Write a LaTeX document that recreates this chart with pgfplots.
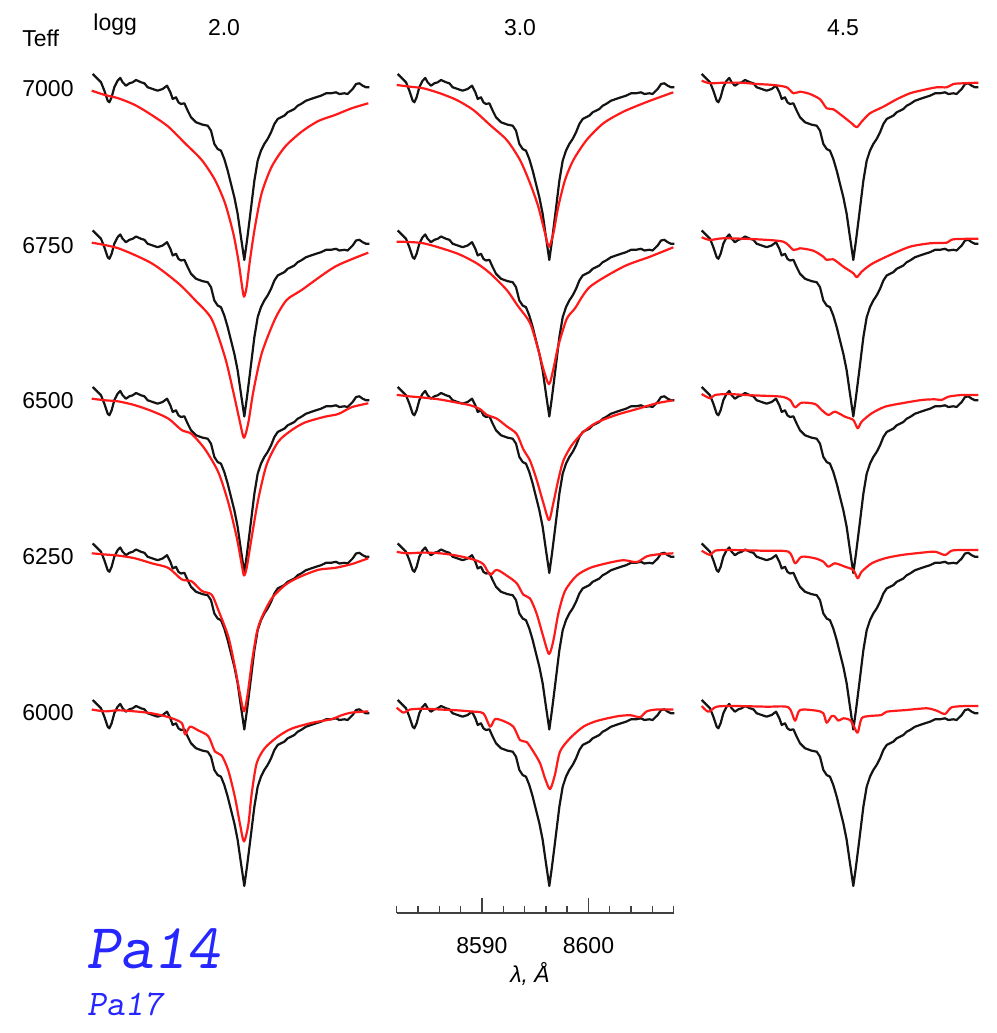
\documentclass[border=0pt]{standalone}
\usepackage{pgfplots}
\pgfplotsset{compat=1.18}
\usepackage{pgfplotstable}
\usepackage{fontspec}
\setmainfont{Liberation Sans}
\definecolor{pablue}{rgb}{0.15,0.15,1}
\definecolor{mred}{rgb}{1,0.1,0.1}

% observed spectrum (same star in every panel); f = offset from row baseline (px units)
\pgfplotstableread{
l f
8582.12 12.0
8582.59 7.0
8582.90 3.7
8583.21 -4.7
8583.52 -14.7
8583.68 -16.3
8583.89 -11.3
8584.14 -1.3
8584.45 5.3
8584.70 8.0
8584.92 3.7
8585.23 0.3
8585.55 2.7
8585.86 3.7
8586.17 6.0
8586.64 3.7
8586.95 2.7
8587.26 -1.3
8587.73 -3.0
8588.19 -4.7
8588.66 -3.0
8589.07 0.3
8589.38 -6.3
8589.60 -13.0
8589.91 -11.3
8590.13 -16.3
8590.37 -18.0
8590.69 -17.3
8591.00 -24.7
8591.31 -31.3
8591.78 -36.3
8592.40 -38.7
8592.87 -39.7
8593.18 -44.7
8593.49 -58.0
8593.80 -63.0
8594.11 -64.7
8594.42 -73.0
8594.74 -84.7
8595.05 -98.0
8595.36 -111.3
8595.67 -128.0
8595.98 -151.3
8596.29 -174.0
8596.54 -154.7
8596.85 -128.0
8597.23 -94.7
8597.54 -74.7
8597.85 -64.7
8598.16 -58.0
8598.47 -53.0
8598.79 -46.3
8599.10 -38.0
8599.41 -33.0
8599.72 -31.3
8600.03 -29.7
8600.34 -26.3
8600.65 -24.7
8600.97 -23.0
8601.28 -19.7
8601.59 -18.0
8602.06 -14.7
8602.52 -13.0
8602.99 -11.3
8603.46 -9.7
8603.93 -7.3
8604.39 -7.3
8604.86 -6.3
8605.17 -8.0
8605.64 -7.3
8605.95 -8.0
8606.42 -3.0
8606.73 2.0
8607.04 2.7
8607.35 0.3
8607.66 -1.3
8607.98 -1.3
}\obs

% ---- models, logg 2.0 ----
\pgfplotstableread{
l f
8582.03 -4.7
8583.27 -9.0
8584.52 -12.3
8586.07 -19.0
8587.63 -29.0
8589.19 -40.7
8590.75 -57.3
8592.31 -74.0
8593.55 -94.0
8594.49 -117.3
8595.26 -147.3
8595.73 -174.0
8596.04 -197.3
8596.26 -210.7
8596.51 -200.7
8596.82 -174.0
8597.29 -140.7
8597.91 -107.3
8598.85 -80.7
8600.10 -60.7
8601.65 -45.7
8603.21 -35.0
8604.77 -29.0
8606.32 -22.3
8607.88 -17.3
}\redA
\pgfplotstableread{
l f
8582.03 -0.2
8584.52 -5.8
8587.63 -20.8
8590.12 -40.8
8591.68 -57.5
8593.24 -76.6
8594.49 -114.9
8595.26 -149.3
8595.89 -180.0
8596.26 -195.3
8596.67 -180.0
8597.13 -149.3
8597.91 -111.1
8599.16 -76.6
8600.25 -57.5
8601.65 -47.5
8604.77 -24.2
8607.88 -10.2
}\redB
\pgfplotstableread{
l f
8582.03 0.3
8583.27 -1.3
8584.52 -2.4
8586.07 -6.2
8587.63 -12.0
8589.19 -19.6
8590.44 -31.1
8591.37 -35.0
8592.62 -50.3
8593.86 -73.2
8594.80 -103.8
8595.58 -138.3
8596.04 -165.1
8596.26 -176.5
8596.51 -168.9
8596.98 -138.3
8597.60 -100.0
8598.38 -65.6
8599.47 -42.6
8600.72 -31.1
8601.96 -23.5
8603.83 -17.7
8605.08 -15.0
8606.32 -8.2
8607.88 -4.3
}\redC
\pgfplotstableread{
l f
8582.03 2.2
8583.27 1.0
8584.52 -0.1
8586.07 -2.8
8587.63 -7.8
8589.19 -12.4
8590.44 -23.9
8591.37 -25.8
8592.31 -35.4
8593.24 -39.2
8593.86 -54.5
8594.80 -81.3
8595.42 -111.9
8595.89 -138.7
8596.26 -155.9
8596.60 -138.7
8596.98 -108.1
8597.45 -77.5
8597.91 -62.2
8598.85 -43.0
8600.10 -29.6
8601.34 -22.0
8603.21 -14.3
8604.77 -12.4
8606.32 -8.6
8607.88 -2.8
}\redD
\pgfplotstableread{
l f
8582.03 2.5
8583.27 0.6
8584.52 1.7
8586.07 0.6
8587.63 -1.3
8589.19 -5.1
8590.44 -10.9
8590.75 -22.4
8591.22 -14.7
8592.00 -18.5
8592.93 -24.3
8593.55 -39.6
8594.17 -43.4
8594.80 -58.7
8595.42 -85.5
8595.89 -112.3
8596.26 -129.5
8596.67 -112.3
8596.98 -81.7
8597.45 -51.1
8598.23 -35.8
8599.47 -24.3
8600.72 -16.6
8602.59 -10.9
8604.46 -7.1
8605.39 -3.2
8606.32 -0.6
8607.88 0.6
}\redE
% ---- models, logg 3.0 ----
\pgfplotstableread{
l f
8582.03 1.0
8583.27 -0.7
8584.52 -2.3
8586.07 -7.3
8587.63 -14.0
8589.19 -24.0
8590.75 -39.0
8592.31 -54.0
8593.55 -74.0
8594.49 -97.3
8595.26 -120.7
8595.89 -147.3
8596.26 -160.7
8596.67 -147.3
8597.13 -120.7
8597.76 -94.0
8598.54 -74.0
8599.78 -54.0
8601.34 -37.3
8603.21 -25.7
8605.08 -17.3
8606.32 -12.3
8607.88 -6.3
}\redF
\pgfplotstableread{
l f
8582.03 0.8
8584.52 -0.8
8587.63 -10.8
8589.50 -20.8
8590.75 -30.8
8592.31 -47.5
8593.40 -64.2
8594.49 -80.5
8595.26 -107.3
8595.73 -126.4
8596.26 -141.7
8596.67 -126.4
8597.13 -103.4
8597.91 -76.6
8598.69 -65.8
8600.10 -44.2
8603.21 -24.2
8605.70 -14.2
8607.88 -4.8
}\redG
\pgfplotstableread{
l f
8582.03 4.1
8583.27 2.6
8584.52 1.4
8586.07 -0.5
8587.63 -3.6
8588.88 -6.2
8589.81 -10.1
8590.44 -15.8
8591.37 -19.6
8592.31 -27.3
8593.24 -35.0
8593.86 -50.3
8594.49 -61.7
8595.11 -80.9
8595.73 -103.8
8596.26 -121.1
8596.67 -103.8
8597.13 -80.9
8597.60 -61.7
8598.38 -46.4
8599.47 -33.0
8600.72 -23.5
8602.59 -15.8
8604.46 -10.1
8606.32 -4.3
8607.88 -1.3
}\redH
\pgfplotstableread{
l f
8582.03 3.7
8582.96 2.2
8584.52 2.9
8586.07 2.2
8587.63 -0.1
8589.19 -4.0
8590.12 -8.6
8590.75 -19.3
8591.37 -14.3
8592.31 -20.1
8593.24 -27.7
8593.86 -39.2
8594.49 -43.0
8595.11 -58.3
8595.73 -81.3
8596.26 -98.5
8596.67 -85.1
8597.13 -58.3
8597.76 -35.4
8598.85 -20.1
8600.10 -12.4
8601.65 -7.8
8603.21 -4.7
8604.46 -6.6
8605.39 -0.9
8606.32 1.0
8607.88 2.2
}\redI
\pgfplotstableread{
l f
8582.03 4.4
8582.65 -0.6
8583.27 2.5
8584.52 3.3
8586.07 2.5
8587.63 1.7
8588.88 0.6
8590.12 -1.3
8590.75 -14.7
8591.22 -7.1
8592.00 -9.0
8592.93 -14.7
8593.55 -28.1
8594.17 -30.0
8594.80 -39.6
8595.42 -51.1
8595.89 -66.4
8596.36 -77.1
8596.82 -62.6
8597.29 -39.6
8598.23 -26.2
8599.47 -14.7
8600.72 -9.0
8602.59 -4.4
8603.83 -3.2
8604.77 -5.1
8605.39 0.6
8606.32 2.5
8607.88 2.5
}\redJ
% ---- models, logg 4.5 ----
\pgfplotstableread{
l f
8582.12 5.3
8582.90 2.7
8584.14 3.3
8585.70 3.3
8587.26 2.0
8588.82 1.0
8590.06 -1.3
8590.69 -7.3
8591.31 -5.7
8592.24 -8.0
8593.18 -13.3
8593.80 -22.3
8594.42 -23.3
8595.36 -30.7
8596.14 -37.3
8596.61 -41.3
8597.07 -35.7
8597.85 -27.3
8599.10 -20.7
8600.34 -13.3
8601.59 -7.3
8602.83 -4.0
8604.08 -1.3
8605.02 -1.3
8605.64 2.0
8606.57 2.7
8607.97 3.3
}\redK
\pgfplotstableread{
l f
8582.12 5.2
8582.90 2.5
8584.14 4.2
8587.26 3.2
8589.75 0.8
8590.69 -7.5
8591.31 -5.8
8592.55 -8.2
8593.49 -14.2
8593.80 -17.5
8594.42 -16.8
8595.36 -24.2
8596.30 -30.8
8596.61 -34.8
8597.07 -29.2
8598.01 -21.5
8599.72 -12.5
8601.59 -4.2
8603.46 -0.8
8605.02 -0.2
8605.64 3.2
8607.97 3.8
}\redL
\pgfplotstableread{
l f
8582.12 5.0
8582.90 0.7
8583.36 4.0
8584.61 5.0
8586.17 4.0
8587.73 3.3
8589.59 2.3
8590.37 -1.0
8590.84 -8.3
8591.46 -3.7
8592.71 -5.0
8593.33 -11.0
8593.96 -16.0
8594.58 -12.7
8595.51 -17.7
8596.29 -21.0
8596.70 -29.3
8597.07 -22.7
8598.01 -14.3
8599.25 -7.7
8600.81 -4.3
8602.68 -1.0
8603.92 -0.3
8604.55 -1.0
8605.17 2.3
8606.42 4.0
8607.97 4.0
}\redM
\pgfplotstableread{
l f
8582.12 4.8
8582.90 0.5
8583.36 4.8
8584.61 5.5
8587.73 4.8
8590.22 3.8
8590.84 -7.8
8591.46 -1.2
8592.71 -2.8
8593.49 -6.2
8593.96 -11.2
8594.58 -7.8
8595.51 -11.2
8596.29 -14.5
8596.70 -22.8
8597.07 -16.2
8598.01 -7.8
8599.25 -2.8
8600.81 0.5
8602.68 2.8
8603.92 3.8
8604.86 0.5
8605.48 4.8
8606.42 5.5
8607.97 5.5
}\redN
\pgfplotstableread{
l f
8582.12 6.0
8582.74 0.3
8583.52 5.3
8585.08 6.0
8588.19 5.3
8590.22 4.7
8590.84 -8.7
8591.31 2.0
8592.87 1.3
8593.49 -1.3
8593.80 -10.7
8594.27 -4.0
8594.58 -4.7
8594.89 -8.7
8595.36 -6.3
8595.98 -8.0
8596.36 -14.7
8596.70 -20.7
8597.07 -6.3
8597.85 -4.0
8598.94 -3.0
8599.41 0.3
8601.28 2.0
8603.15 3.7
8604.08 1.3
8604.86 -2.0
8605.48 4.7
8606.88 6.0
8607.98 6.0
}\redO

% #1 column shift (A), #2 row baseline (px from top), #3 model table
\newcommand{\panel}[3]{%
  \addplot[black!92, line width=1.1pt, line join=round] table[x expr=\thisrow{l}+#1, y expr=\thisrow{f}-#2]{\obs};
  \addplot[mred, line width=1.1pt, line join=round, smooth, tension=0.45] table[x expr=\thisrow{l}+#1, y expr=\thisrow{f}-#2]{#3};
}

\begin{document}
\fontsize{11.5}{13}\selectfont
\begin{tikzpicture}
\useasboundingbox (0,0) rectangle (498pt,516.5pt);
\begin{axis}[
  at={(0,0)}, anchor=south west,
  scale only axis, width=498pt, height=516.5pt,
  xmin=8544.953, xmax=8638.037, ymin=-1033, ymax=0,
  hide axis, clip=false,
]
\panel{-28.505}{86}{\redA}
\panel{-28.505}{242.5}{\redB}
\panel{-28.505}{399}{\redC}
\panel{-28.505}{555.5}{\redD}
\panel{-28.505}{712}{\redE}
\panel{0}{86}{\redF}
\panel{0}{242.5}{\redG}
\panel{0}{399}{\redH}
\panel{0}{555.5}{\redI}
\panel{0}{712}{\redJ}
\panel{28.411}{86}{\redK}
\panel{28.411}{242.5}{\redL}
\panel{28.411}{399}{\redM}
\panel{28.411}{555.5}{\redN}
\panel{28.411}{712}{\redO}
% header and row labels (positions in picture fractions)
\node[anchor=base west, inner sep=0] at (rel axis cs:0.0221,0.9545) {Teff};
\node[anchor=base west, inner sep=0] at (rel axis cs:0.0934,0.9700) {logg};
\node[anchor=base, inner sep=0] at (rel axis cs:0.2249,0.9652) {2.0};
\node[anchor=base, inner sep=0] at (rel axis cs:0.5221,0.9652) {3.0};
\node[anchor=base, inner sep=0] at (rel axis cs:0.8464,0.9652) {4.5};
\node[anchor=base west, inner sep=0] at (rel axis cs:0.0221,0.9066) {7000};
\node[anchor=base west, inner sep=0] at (rel axis cs:0.0221,0.7546) {6750};
\node[anchor=base west, inner sep=0] at (rel axis cs:0.0221,0.6046) {6500};
\node[anchor=base west, inner sep=0] at (rel axis cs:0.0221,0.4535) {6250};
\node[anchor=base west, inner sep=0] at (rel axis cs:0.0221,0.3025) {6000};
\node[anchor=base, inner sep=0] at (rel axis cs:0.5321,0.0490) {\textit{λ, Å}};
\node[anchor=base west, inner sep=0, text=pablue] at (rel axis cs:0.0860,0.0629) {\fontsize{32}{34}\selectfont\ttfamily\slshape Pa14};
\node[anchor=base west, inner sep=0, text=pablue] at (rel axis cs:0.0870,0.0174) {\fontsize{18}{20}\selectfont\ttfamily\slshape Pa17};
\end{axis}
% wavelength scale bar under the middle column
\begin{axis}[
  at={(198.35pt,60pt)}, anchor=south west,
  scale only axis, width=138.5pt, height=10pt,
  xmin=8582, xmax=8608, ymin=0, ymax=1,
  axis x line=bottom, axis y line=none,
  axis line style={-, line width=0.7pt, black!75},
  xtick={8590,8600}, xticklabels={8590,8600},
  minor xtick={8582,8584,...,8608},
  tick align=inside,
  major tick length=7.5pt, minor tick length=3.5pt,
  every tick/.style={line width=0.7pt, black!75},
  xticklabel style={yshift=-8pt, font=\fontsize{11.5}{13}\selectfont},
]
\addplot[draw=none] coordinates {(8590,0.5)};
\end{axis}
\end{tikzpicture}
\end{document}
